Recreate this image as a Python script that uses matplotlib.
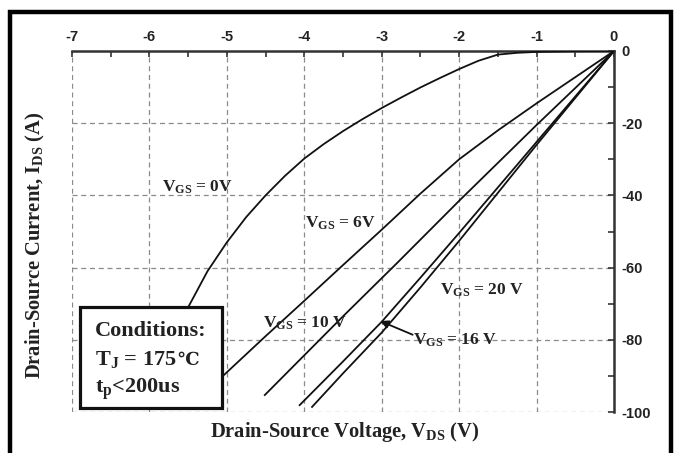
import matplotlib
matplotlib.use('Agg')
import matplotlib.pyplot as plt
from matplotlib.patches import Rectangle
from matplotlib.ticker import MultipleLocator

plt.rcParams['font.family'] = ['Liberation Serif', 'DejaVu Serif']
plt.rcParams['font.weight'] = 'bold'
plt.rcParams['mathtext.fontset'] = 'custom'
plt.rcParams['mathtext.rm'] = 'Liberation Serif:bold'
plt.rcParams['mathtext.it'] = 'Liberation Serif:bold'
plt.rcParams['mathtext.bf'] = 'Liberation Serif:bold'
plt.rcParams['axes.unicode_minus'] = False

# third-quadrant output curves, Tj = 175 C
vds_0v = [0, -0.5, -1.0, -1.25, -1.5, -1.75, -2.0, -2.25, -2.5, -2.75, -3.0, -3.25,
          -3.5, -3.75, -4.0, -4.25, -4.5, -4.75, -5.0, -5.25, -5.5, -5.75]
ids_0v = [0, -0.05, -0.25, -0.5, -1.0, -2.7, -5.0, -7.5, -10.1, -12.9, -15.8, -18.9,
          -22.2, -25.8, -29.8, -34.6, -40.0, -46.0, -53.0, -61.0, -71.0, -83.0]

vds_6v = [0, -1.0, -1.5, -2.0, -2.5, -3.0, -3.5, -4.0, -4.5, -5.0, -5.3]
ids_6v = [0, -14.5, -22.0, -30.0, -39.5, -49.5, -59.3, -69.2, -79.0, -89.0, -95.0]

vds_10v = [0, -1.0, -2.0, -2.8, -3.5, -4.51]
ids_10v = [0, -20.5, -41.5, -58.7, -73.5, -95.3]

vds_16v = [0, -1.0, -2.0, -2.5, -3.0, -3.5, -4.06]
ids_16v = [0, -25.2, -50.4, -62.8, -75.0, -86.0, -98.1]

vds_20v = [0, -1.0, -2.0, -2.5, -3.0, -3.5, -3.9]
ids_20v = [0, -26.0, -52.6, -65.5, -78.0, -89.3, -98.6]

xticks = [-7, -6, -5, -4, -3, -2, -1, 0]
yticks = [0, -20, -40, -60, -80, -100]

fig = plt.figure(figsize=(6.78, 4.53), dpi=100)
ax = fig.add_axes([72 / 678, 1 - 412 / 453, (614 - 72) / 678, (412 - 51) / 453])

for v, i in [(vds_0v, ids_0v), (vds_6v, ids_6v), (vds_10v, ids_10v),
             (vds_16v, ids_16v), (vds_20v, ids_20v)]:
    ax.plot(v, i, color='#111111', lw=1.3, zorder=3)

ax.set_xlim(-7, 0)
ax.set_ylim(-100, 0)
ax.set_xticks(xticks)
ax.set_yticks(yticks)
ax.xaxis.set_minor_locator(MultipleLocator(0.5))
ax.yaxis.set_minor_locator(MultipleLocator(10))
ax.xaxis.tick_top()
ax.yaxis.tick_right()
ax.tick_params(which='both', direction='in', color='#333333', width=1.2)
ax.tick_params(which='major', length=4, pad=5)
ax.tick_params(which='minor', length=4)
for lab in ax.get_xticklabels() + ax.get_yticklabels():
    lab.set_family('Liberation Sans')
    lab.set_fontweight('bold')
    lab.set_fontsize(10.5)
    lab.set_color('#222222')

ax.grid(True, which='major', ls=(0, (4, 3)), color='#8a8a8a', lw=0.9)
for side in ['left', 'bottom']:
    ax.spines[side].set_visible(False)
for side in ['top', 'right']:
    ax.spines[side].set_color('#333333')
    ax.spines[side].set_linewidth(1.8)

# curve labels
lab_kw = dict(fontsize=12.5, fontweight='bold', color='#222222', zorder=5)
ax.text(-5.84, -39.0, r'V$_{GS}$ = 0V', **lab_kw)
ax.text(-3.99, -49.0, r'V$_{GS}$ = 6V', **lab_kw)
ax.text(-4.53, -76.7, r'V$_{GS}$ = 10 V', **lab_kw)
ax.text(-2.25, -67.6, r'V$_{GS}$ = 20 V', **lab_kw)
ax.text(-2.6, -81.4, r'V$_{GS}$ = 16 V', **lab_kw)
ax.annotate('', xy=(-3.02, -74.8), xytext=(-2.6, -78.6),
            arrowprops=dict(arrowstyle='-|>', color='#111111', lw=1.3,
                            mutation_scale=12, shrinkA=0, shrinkB=0), zorder=5)

# conditions box
ax.add_patch(Rectangle((-6.9, -98.9), 1.84, 28.0, facecolor='white',
                       edgecolor='#111111', lw=2.3, zorder=6))
box_kw = dict(fontsize=16, fontweight='bold', color='#222222', zorder=7)
ax.text(-6.7, -78.9, 'Conditions:', **box_kw)
tj = ax.text(-6.7, -87.0, r'T$_J$ = 175', **box_kw)
ax.annotate('℃', xy=(1, -87.0), xycoords=(tj, 'data'), ha='left', va='baseline',
            family='DejaVu Serif', fontsize=13, fontweight='bold',
            color='#222222', zorder=7)
ax.text(-6.7, -94.7, r't$_p$<200us', **box_kw)

fig.text(345 / 678, 1 - 432 / 453, r'Drain-Source Voltage, V$_{DS}$ (V)',
         ha='center', va='center', fontsize=14.8, fontweight='bold', color='#222222')
fig.text(35 / 678, 1 - 245 / 453, r'Drain-Source Current, I$_{DS}$ (A)',
         ha='center', va='center', rotation=90, fontsize=14.8,
         fontweight='bold', color='#222222')

# outer frame
fig.patches.append(Rectangle((10 / 678, -0.1), (671 - 10) / 678, 1.1 - 12 / 453,
                             transform=fig.transFigure, fill=False,
                             edgecolor='black', lw=3.2))

fig.savefig('out.png', dpi=100)
